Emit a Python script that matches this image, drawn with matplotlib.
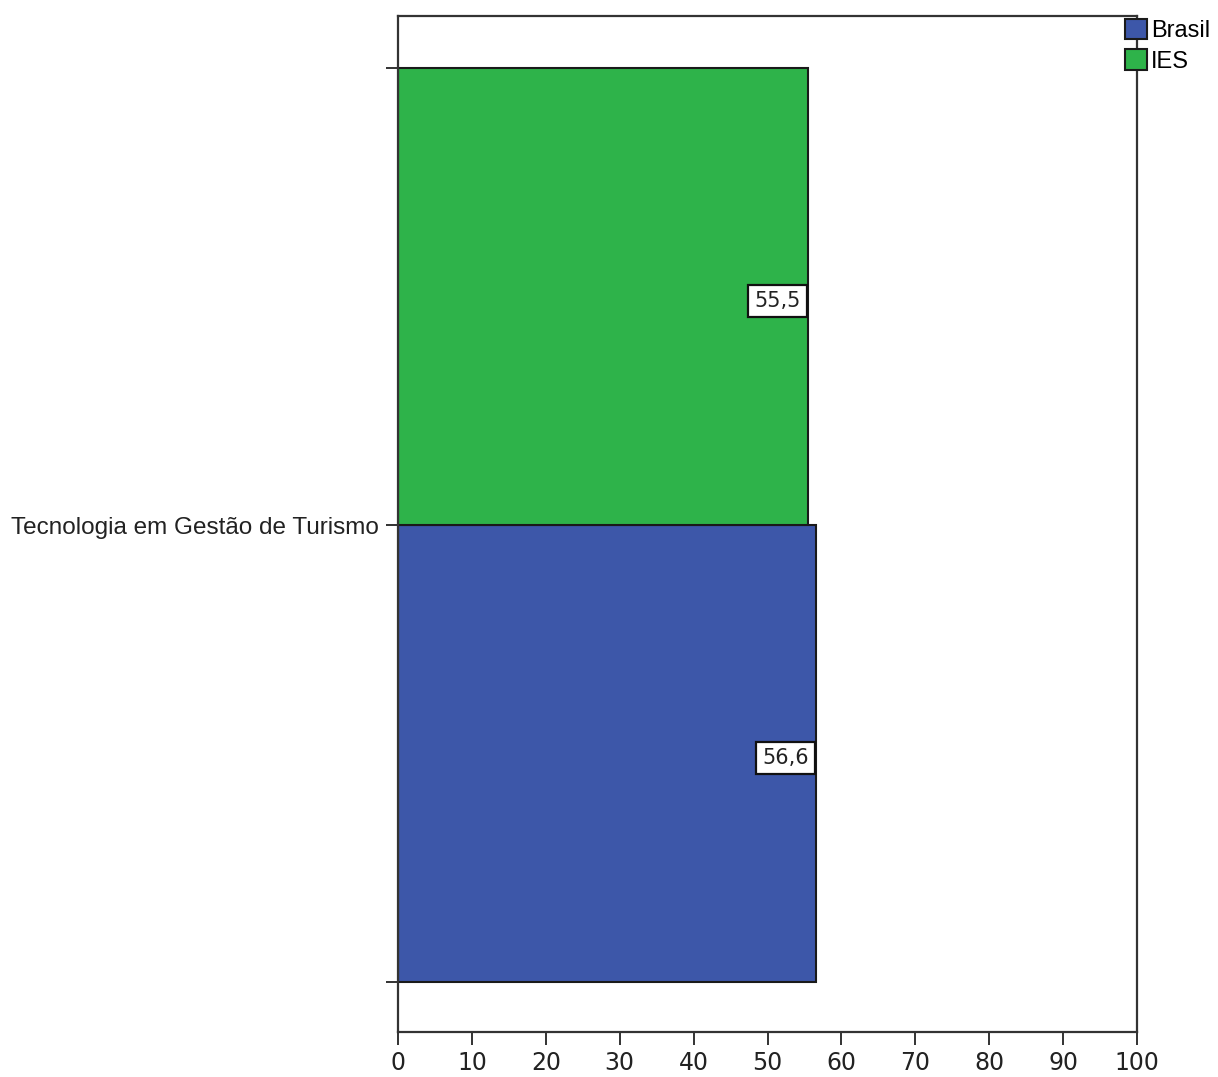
import numpy as np
import matplotlib.pyplot as plt
from matplotlib.patches import Patch

plt.rcParams['font.family'] = ['Liberation Sans', 'DejaVu Sans']

category = 'Tecnologia em Gestão de Turismo'
series = ['Brasil', 'IES']
values = [56.6, 55.5]
colors = ['#3d57a9', '#2eb34a']
xticks = [0, 10, 20, 30, 40, 50, 60, 70, 80, 90, 100]

fig = plt.figure(figsize=(12.18, 10.77), dpi=100)
ax = fig.add_axes([0.3268, 0.0418, 0.6067, 0.9433])

# each series as a band of height 1: Brasil at bottom, IES on top
for i, (name, v, c) in enumerate(zip(series, values, colors)):
    ax.barh(i + 0.5, v, height=1.0, color=c, edgecolor='#1a1a1a', linewidth=1.5)
    ax.text(v - 1.0, i + 0.49, f'{v:.1f}'.replace('.', ','), ha='right', va='center',
            fontsize=15, color='#222222', family=['DejaVu Sans'],
            bbox=dict(boxstyle='square,pad=0.3', fc='white', ec='#111111', lw=1.6))

ax.set_xlim(0, 100)
ax.set_ylim(-0.109, 2.1135)
ax.set_xticks(xticks)
ax.set_xticklabels([str(t) for t in xticks], fontsize=17, family=['DejaVu Sans'])
ax.set_yticks([0, 1, 2])
ax.set_yticklabels(['', category, ''], fontsize=17.5)
ax.tick_params(axis='both', direction='out', length=9, width=1.3, colors='#222222', pad=5)
for s in ax.spines.values():
    s.set_linewidth(1.6)
    s.set_color('#333333')

handles = [Patch(facecolor=c, edgecolor='#1a1a1a', linewidth=1.5, label=n)
           for n, c in zip(series, colors)]
leg = fig.legend(handles=handles, loc='upper left', bbox_to_anchor=(1125 / 1218, 1 - 19 / 1077),
                 frameon=False, fontsize=17, handlelength=0.95, handleheight=0.95,
                 handletextpad=0.15, labelspacing=0.3, borderpad=0, borderaxespad=0)

fig.savefig('out.png', dpi=100, facecolor='white')
